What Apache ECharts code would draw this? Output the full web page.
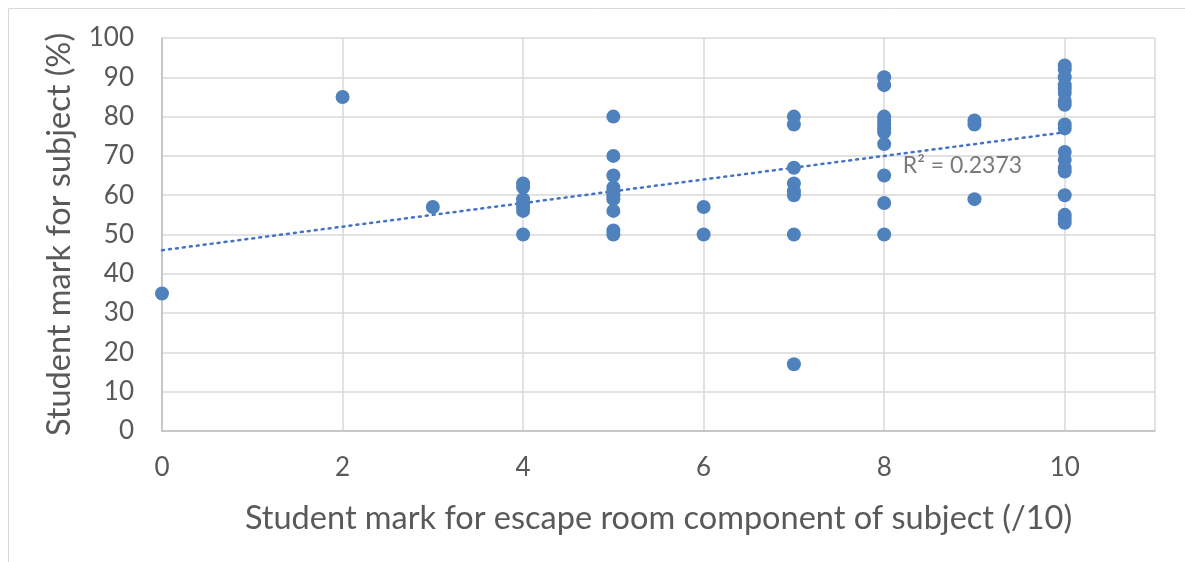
<!DOCTYPE html>
<html>
<head>
<meta charset="utf-8">
<script src="https://cdn.jsdelivr.net/npm/echarts@6/dist/echarts.min.js"></script>
<style>
html,body{margin:0;padding:0;background:#fff;}
#chart{width:1185px;height:562px;}
</style>
</head>
<body>
<div id="chart"></div>
<script>
// Escape room mark (/10) for each student
const escapeMarks = [
  0,
  2,
  3,
  4,4,4,4,4,4,4,
  5,5,5,5,5,5,5,5,5,5,
  6,6,
  7,7,7,7,7,7,7,7,
  8,8,8,8,8,8,8,8,8,8,8,
  9,9,9,
  10,10,10,10,10,10,10,10,10,10,10,10,10,10,10,10,10,10
];
// Subject mark (%) for each student
const subjectMarks = [
  35,
  85,
  57,
  63,62,59,58,57,56,50,
  80,70,65,62,61,60,59,56,51,50,
  57,50,
  80,78,67,63,61,60,50,17,
  90,88,80,79,78,77,76,73,65,58,50,
  79,78,59,
  93,92,90,88,87,86,84,83,78,77,71,69,67,66,60,55,54,53
];
// Linear trendline endpoints
const trendX = [0, 10];
const trendY = [46, 76];
const rSquaredLabel = 'R² = 0.2373';
const xTickValues = [0, 2, 4, 6, 8, 10];

const points = escapeMarks.map((x, i) => [x, subjectMarks[i]]);
const trend = trendX.map((x, i) => [x, trendY[i]]);

const font = 'Lato, "Open Sans", sans-serif';
const textColor = '#595959';

const chart = echarts.init(document.getElementById('chart'));
chart.setOption({
  animation: false,
  backgroundColor: '#fff',
  graphic: [{
    type: 'rect',
    left: 6, top: 6,
    shape: {x: 0, y: 0, width: 1185, height: 556},
    style: {fill: 'none', stroke: '#d9d9d9', lineWidth: 1},
    silent: true
  }],
  grid: {left: 162, right: 30, top: 38, bottom: 131},
  xAxis: {
    type: 'value',
    min: 0, max: 11, interval: 2,
    name: 'Student mark for escape room component of subject (/10)',
    nameLocation: 'middle',
    nameGap: 71,
    nameTextStyle: {fontFamily: font, fontSize: 32.5, color: textColor},
    axisLine: {show: true, lineStyle: {color: '#bfbfbf', width: 1.5}},
    axisTick: {show: false},
    axisLabel: {
      fontFamily: font, fontSize: 26, color: textColor, margin: 24,
      showMaxLabel: false,
      formatter: v => xTickValues.includes(v) ? String(v) : ''
    },
    splitLine: {show: true, lineStyle: {color: '#d9d9d9', width: 1.5}}
  },
  yAxis: {
    type: 'value',
    min: 0, max: 100, interval: 10,
    name: 'Student mark for subject (%)',
    nameLocation: 'middle',
    nameGap: 86,
    nameTextStyle: {fontFamily: font, fontSize: 32.5, color: textColor},
    axisLine: {show: true, lineStyle: {color: '#bfbfbf', width: 1.5}},
    axisTick: {show: false},
    axisLabel: {fontFamily: font, fontSize: 26, color: textColor, margin: 28},
    splitLine: {show: true, lineStyle: {color: '#d9d9d9', width: 1.5}}
  },
  series: [
    {
      type: 'line',
      data: trend,
      symbol: 'none',
      lineStyle: {color: '#4472c4', width: 2.5, type: [2, 5], cap: 'round'},
      silent: true,
      z: 3
    },
    {
      type: 'scatter',
      data: points,
      symbolSize: 14,
      itemStyle: {color: '#4f81bd', opacity: 1},
      z: 4
    },
    {
      type: 'scatter',
      data: [[8.15, 67.5]],
      symbolSize: 0,
      label: {
        show: true,
        position: 'right',
        formatter: rSquaredLabel,
        fontFamily: font, fontSize: 23, color: textColor
      },
      silent: true,
      z: 5
    }
  ]
});
</script>
</body>
</html>
